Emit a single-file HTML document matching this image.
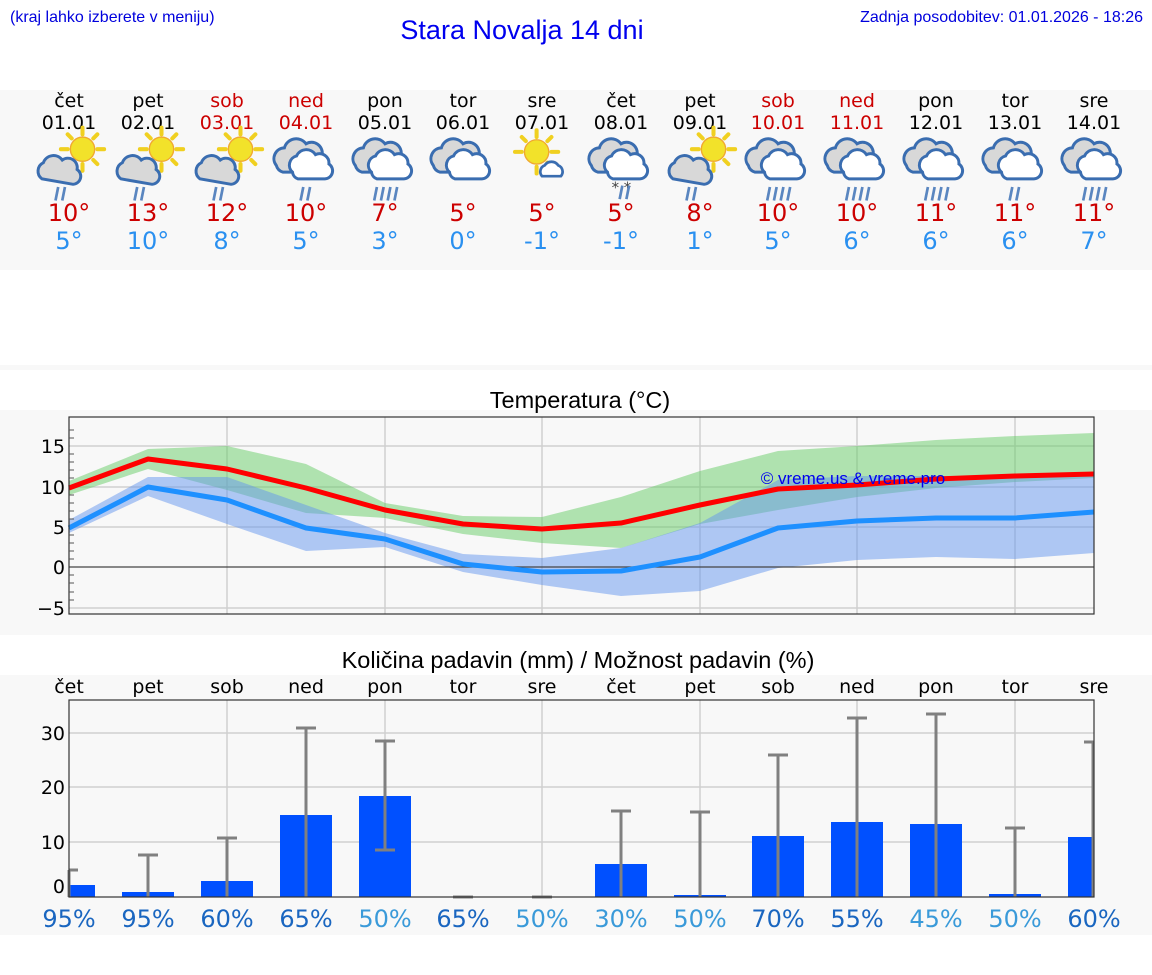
<!DOCTYPE html>
<html><head><meta charset="utf-8"><style>
body{margin:0;background:#fff;width:1152px;height:975px;overflow:hidden}
svg{display:block}
.d{font-family:"DejaVu Sans",sans-serif}
.l{font-family:"Liberation Sans",sans-serif}
</style></head><body>
<svg width="1152" height="975" viewBox="0 0 1152 975" xmlns="http://www.w3.org/2000/svg">
<defs>
<g id="sun"><g stroke="#f0d020" stroke-width="3" stroke-linecap="round">
<line x1="0" y1="-16" x2="0" y2="-11"/><line x1="11" y1="-11" x2="8" y2="-8"/><line x1="16" y1="0" x2="11" y2="0"/><line x1="11" y1="11" x2="8" y2="8"/><line x1="-11" y1="-11" x2="-8" y2="-8"/><line x1="-16" y1="0" x2="-11" y2="0"/><line x1="0" y1="16" x2="0" y2="11"/></g>
<circle r="9" fill="#f2e22a" stroke="#f0a830" stroke-width="1"/></g>
<g id="cl"><path d="M-14,8 a7,7 0 0 1 1,-12 a8,8 0 0 1 14,-2 a7,7 0 0 1 11,7 a6,6 0 0 1 -3,11 z" fill="#d8d8d8" stroke="#3a6db0" stroke-width="2.2"/></g>
<g id="cl2"><path d="M-22,4 a8,8 0 0 1 6,-13 a9,9 0 0 1 16,-3 a8,8 0 0 1 12,8 a7,7 0 0 1 -3,13 h-26 a7,7 0 0 1 -5,-5z" fill="#d8d8d8" stroke="#3a6db0" stroke-width="2.2"/>
<path d="M-10,9 a7,7 0 0 1 3,-12 a8,8 0 0 1 14,-1 a7,7 0 0 1 10,7 a6,6 0 0 1 -3,11 h-20 a6,6 0 0 1 -4,-5z" fill="#fff" stroke="#3a6db0" stroke-width="2.2"/></g>
<g id="r2" stroke="#5a86c0" stroke-width="2"><line x1="-2" y1="0" x2="-4" y2="10"/><line x1="3" y1="0" x2="1" y2="10"/></g>
<g id="r3" stroke="#5a86c0" stroke-width="2"><line x1="-6" y1="0" x2="-8" y2="10"/><line x1="-1" y1="0" x2="-3" y2="10"/><line x1="4" y1="0" x2="2" y2="10"/><line x1="9" y1="0" x2="7" y2="10"/></g>
<g id="ic_sr"><use href="#sun" x="10" y="-8"/><use href="#cl" x="-6" y="6"/><use href="#r2" x="-6" y="20"/></g>
<g id="ic_c2"><use href="#cl2" x="0" y="0"/><use href="#r2" x="0" y="20"/></g>
<g id="ic_c3"><use href="#cl2" x="0" y="0"/><use href="#r3" x="0" y="20"/></g>
<g id="ic_c"><use href="#cl2" x="0" y="0"/></g>
<g id="ic_s"><use href="#sun" x="-4" y="-6"/><path d="M0,12 a5,5 0 0 1 2,-8 a6,6 0 0 1 10,0 a5,5 0 0 1 2,8z" fill="#fff" stroke="#3a6db0" stroke-width="2"/></g>
<g id="ic_sn"><use href="#cl2"/><text x="-7" y="24" font-size="11" fill="#444" class="d">* *</text><use href="#r2" x="3" y="19"/></g>
</defs>
<rect x="0" y="90" width="1152" height="180" fill="#f8f8f8"/>
<rect x="0" y="365" width="1152" height="5" fill="#f8f8f8"/>
<rect x="0" y="410" width="1152" height="225" fill="#f8f8f8"/>
<rect x="0" y="675" width="1152" height="260" fill="#f8f8f8"/>
<text x="10" y="22" class="l" font-size="16" fill="#0000dd">(kraj lahko izberete v meniju)</text>
<text x="522" y="39" class="l" font-size="27" fill="#0000ee" text-anchor="middle">Stara Novalja 14 dni</text>
<text x="1143" y="22" class="l" font-size="16" fill="#0000dd" text-anchor="end">Zadnja posodobitev: 01.01.2026 - 18:26</text>
<g class="d" font-size="19" text-anchor="middle">
<g fill="#000"><text x="69" y="107">čet</text><text x="148" y="107">pet</text><text x="385" y="107">pon</text><text x="463" y="107">tor</text><text x="542" y="107">sre</text><text x="621" y="107">čet</text><text x="700" y="107">pet</text><text x="936" y="107">pon</text><text x="1015" y="107">tor</text><text x="1094" y="107">sre</text>
<text x="69" y="129">01.01</text><text x="148" y="129">02.01</text><text x="385" y="129">05.01</text><text x="463" y="129">06.01</text><text x="542" y="129">07.01</text><text x="621" y="129">08.01</text><text x="700" y="129">09.01</text><text x="936" y="129">12.01</text><text x="1015" y="129">13.01</text><text x="1094" y="129">14.01</text></g>
<g fill="#cc0000"><text x="227" y="107">sob</text><text x="306" y="107">ned</text><text x="778" y="107">sob</text><text x="857" y="107">ned</text>
<text x="227" y="129">03.01</text><text x="306" y="129">04.01</text><text x="778" y="129">10.01</text><text x="857" y="129">11.01</text></g>
</g>
<use href="#ic_sr" transform="translate(69,160) scale(1.35)"/><use href="#ic_sr" transform="translate(148,160) scale(1.35)"/><use href="#ic_sr" transform="translate(227,160) scale(1.35)"/>
<use href="#ic_c2" transform="translate(306,160) scale(1.35)"/><use href="#ic_c3" transform="translate(385,160) scale(1.35)"/><use href="#ic_c" transform="translate(463,160) scale(1.35)"/>
<use href="#ic_s" transform="translate(542,160) scale(1.35)"/><use href="#ic_sn" transform="translate(621,160) scale(1.35)"/>
<use href="#ic_sr" transform="translate(700,160) scale(1.35)"/><use href="#ic_c3" transform="translate(778,160) scale(1.35)"/><use href="#ic_c3" transform="translate(857,160) scale(1.35)"/><use href="#ic_c3" transform="translate(936,160) scale(1.35)"/><use href="#ic_c2" transform="translate(1015,160) scale(1.35)"/><use href="#ic_c3" transform="translate(1094,160) scale(1.35)"/>
<g class="d" font-size="24" text-anchor="middle" fill="#cc0000">
<text x="69" y="221">10°</text><text x="148" y="221">13°</text><text x="227" y="221">12°</text><text x="306" y="221">10°</text><text x="385" y="221">7°</text><text x="463" y="221">5°</text><text x="542" y="221">5°</text><text x="621" y="221">5°</text><text x="700" y="221">8°</text><text x="778" y="221">10°</text><text x="857" y="221">10°</text><text x="936" y="221">11°</text><text x="1015" y="221">11°</text><text x="1094" y="221">11°</text></g>
<g class="d" font-size="24" text-anchor="middle" fill="#2a90f0">
<text x="69" y="249">5°</text><text x="148" y="249">10°</text><text x="227" y="249">8°</text><text x="306" y="249">5°</text><text x="385" y="249">3°</text><text x="463" y="249">0°</text><text x="542" y="249">-1°</text><text x="621" y="249">-1°</text><text x="700" y="249">1°</text><text x="778" y="249">5°</text><text x="857" y="249">6°</text><text x="936" y="249">6°</text><text x="1015" y="249">6°</text><text x="1094" y="249">7°</text></g>

<!-- Temperature -->
<text x="580" y="408" class="l" font-size="23.5" text-anchor="middle">Temperatura (°C)</text>
<g stroke="#d0d0d0" stroke-width="1.5">
<line x1="69" y1="446" x2="1094" y2="446"/><line x1="69" y1="487" x2="1094" y2="487"/><line x1="69" y1="527" x2="1094" y2="527"/><line x1="69" y1="608" x2="1094" y2="608"/>
<line x1="227" y1="417" x2="227" y2="614"/><line x1="385" y1="417" x2="385" y2="614"/><line x1="542" y1="417" x2="542" y2="614"/><line x1="700" y1="417" x2="700" y2="614"/><line x1="857" y1="417" x2="857" y2="614"/><line x1="1015" y1="417" x2="1015" y2="614"/></g>
<polygon fill="#66cc66" fill-opacity="0.5" points="69,481 148,449 227,446 306,464 385,503 463,516 542,517 621,497 700,471 778,451 857,446 936,440 1015,436 1094,433 1094,478 1015,482 936,488 857,497 778,510 700,524 621,548 542,543 463,534 385,518 306,513 227,490 148,469 69,495"/>
<polygon fill="#6495ed" fill-opacity="0.5" points="69,520 148,477 227,477 306,505 385,533 463,554 542,558 621,548 700,523 778,480 857,476 936,476 1015,476 1094,476 1094,553 1015,559 936,557 857,560 778,568 700,591 621,596 542,585 463,572 385,547 306,551 227,524 148,496 69,533"/>
<line x1="69" y1="567" x2="1094" y2="567" stroke="#444" stroke-width="1.2"/>
<polyline fill="none" stroke="#ff0000" stroke-width="5" stroke-linejoin="round" points="69,488 148,459 227,469 306,488 385,510 463,524 542,529 621,523 700,505 778,489 857,485 936,479 1015,476 1094,474"/>
<polyline fill="none" stroke="#1e90ff" stroke-width="5" stroke-linejoin="round" points="69,528 148,487 227,500 306,528 385,539 463,564 542,572 621,571 700,557 778,528 857,521 936,518 1015,518 1094,512"/>
<text x="853" y="484" class="l" font-size="17" fill="#0000ee" text-anchor="middle">© vreme.us &amp; vreme.pro</text>
<rect x="69" y="417" width="1025" height="197" fill="none" stroke="#333" stroke-width="1.2"/>
<g class="d" font-size="19" fill="#000" text-anchor="end"><text x="65" y="453">15</text><text x="65" y="494">10</text><text x="65" y="534">5</text><text x="65" y="574">0</text><text x="65" y="615">−5</text></g>
<g stroke="#555" stroke-width="1"><line x1="69" y1="430" x2="74" y2="430"/><line x1="69" y1="438" x2="74" y2="438"/><line x1="69" y1="454" x2="74" y2="454"/><line x1="69" y1="462" x2="74" y2="462"/><line x1="69" y1="470" x2="74" y2="470"/><line x1="69" y1="478" x2="74" y2="478"/><line x1="69" y1="495" x2="74" y2="495"/><line x1="69" y1="503" x2="74" y2="503"/><line x1="69" y1="511" x2="74" y2="511"/><line x1="69" y1="519" x2="74" y2="519"/><line x1="69" y1="535" x2="74" y2="535"/><line x1="69" y1="543" x2="74" y2="543"/><line x1="69" y1="551" x2="74" y2="551"/><line x1="69" y1="559" x2="74" y2="559"/><line x1="69" y1="575" x2="74" y2="575"/><line x1="69" y1="583" x2="74" y2="583"/><line x1="69" y1="592" x2="74" y2="592"/><line x1="69" y1="600" x2="74" y2="600"/></g>

<!-- Precip -->
<text x="578" y="668" class="l" font-size="23.5" text-anchor="middle">Količina padavin (mm) / Možnost padavin (%)</text>
<g class="d" font-size="19" text-anchor="middle" fill="#000">
<text x="69" y="693">čet</text><text x="148" y="693">pet</text><text x="227" y="693">sob</text><text x="306" y="693">ned</text><text x="385" y="693">pon</text><text x="463" y="693">tor</text><text x="542" y="693">sre</text><text x="621" y="693">čet</text><text x="700" y="693">pet</text><text x="778" y="693">sob</text><text x="857" y="693">ned</text><text x="936" y="693">pon</text><text x="1015" y="693">tor</text><text x="1094" y="693">sre</text></g>
<g stroke="#d0d0d0" stroke-width="1.5">
<line x1="69" y1="733" x2="1094" y2="733"/><line x1="69" y1="787" x2="1094" y2="787"/><line x1="69" y1="842" x2="1094" y2="842"/>
<line x1="227" y1="700" x2="227" y2="897"/><line x1="385" y1="700" x2="385" y2="897"/><line x1="542" y1="700" x2="542" y2="897"/><line x1="700" y1="700" x2="700" y2="897"/><line x1="857" y1="700" x2="857" y2="897"/><line x1="1015" y1="700" x2="1015" y2="897"/></g>
<g fill="#0050ff">
<rect x="69" y="885" width="26" height="12"/><rect x="122" y="892" width="52" height="5"/><rect x="201" y="881" width="52" height="16"/><rect x="280" y="815" width="52" height="82"/><rect x="359" y="796" width="52" height="101"/><rect x="595" y="864" width="52" height="33"/><rect x="674" y="895" width="52" height="2"/><rect x="752" y="836" width="52" height="61"/><rect x="831" y="822" width="52" height="75"/><rect x="910" y="824" width="52" height="73"/><rect x="989" y="894" width="52" height="3"/><rect x="1068" y="837" width="26" height="60"/></g>
<g stroke="#808080" stroke-width="3">
<line x1="69" y1="870" x2="69" y2="897"/><line x1="69" y1="870" x2="78" y2="870"/>
<line x1="148" y1="855" x2="148" y2="897"/><line x1="138" y1="855" x2="158" y2="855"/>
<line x1="227" y1="838" x2="227" y2="897"/><line x1="217" y1="838" x2="237" y2="838"/>
<line x1="306" y1="728" x2="306" y2="897"/><line x1="296" y1="728" x2="316" y2="728"/>
<line x1="385" y1="741" x2="385" y2="850"/><line x1="375" y1="741" x2="395" y2="741"/><line x1="375" y1="850" x2="395" y2="850"/>
<line x1="453" y1="897" x2="473" y2="897"/><line x1="532" y1="897" x2="552" y2="897"/>
<line x1="621" y1="811" x2="621" y2="897"/><line x1="611" y1="811" x2="631" y2="811"/>
<line x1="700" y1="812" x2="700" y2="897"/><line x1="690" y1="812" x2="710" y2="812"/>
<line x1="778" y1="755" x2="778" y2="897"/><line x1="768" y1="755" x2="788" y2="755"/>
<line x1="857" y1="718" x2="857" y2="897"/><line x1="847" y1="718" x2="867" y2="718"/>
<line x1="936" y1="714" x2="936" y2="897"/><line x1="926" y1="714" x2="946" y2="714"/>
<line x1="1015" y1="828" x2="1015" y2="897"/><line x1="1005" y1="828" x2="1025" y2="828"/>
<line x1="1093" y1="742" x2="1093" y2="897"/><line x1="1084" y1="742" x2="1094" y2="742"/></g>
<rect x="69" y="700" width="1025" height="197" fill="none" stroke="#333" stroke-width="1.2"/>
<g class="d" font-size="19" fill="#000" text-anchor="end"><text x="65" y="740">30</text><text x="65" y="794">20</text><text x="65" y="849">10</text><text x="65" y="893">0</text></g>
<g class="d" font-size="24" text-anchor="middle">
<text x="69" y="927" fill="#1a66c0">95%</text><text x="148" y="927" fill="#1a66c0">95%</text><text x="227" y="927" fill="#1a66c0">60%</text><text x="306" y="927" fill="#1a66c0">65%</text><text x="385" y="927" fill="#3a9ad9">50%</text><text x="463" y="927" fill="#1a66c0">65%</text><text x="542" y="927" fill="#3a9ad9">50%</text><text x="621" y="927" fill="#3a9ad9">30%</text><text x="700" y="927" fill="#3a9ad9">50%</text><text x="778" y="927" fill="#1a66c0">70%</text><text x="857" y="927" fill="#1a66c0">55%</text><text x="936" y="927" fill="#3a9ad9">45%</text><text x="1015" y="927" fill="#3a9ad9">50%</text><text x="1094" y="927" fill="#1a66c0">60%</text></g>
</svg>
</body></html>
